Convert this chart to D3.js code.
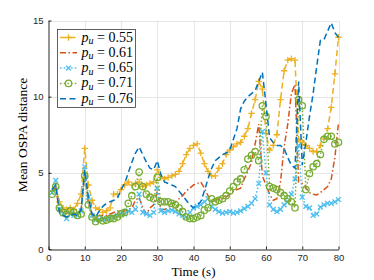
<!DOCTYPE html>
<html><head><meta charset="utf-8">
<script src="https://cdn.jsdelivr.net/npm/d3@7/dist/d3.min.js"></script>
<style>body{margin:0;background:#fff}svg{display:block}</style>
</head><body><svg id="c" width="374" height="280"></svg>
<script>
const times = [1,2,3,4,5,6,7,8,9,10,11,12,13,14,15,16,17,18,19,20,21,22,23,24,25,26,27,28,29,30,31,32,33,34,35,36,37,38,39,40,41,42,43,44,45,46,47,48,49,50,51,52,53,54,55,56,57,58,59,60,61,62,63,64,65,66,67,68,69,70,71,72,73,74,75,76,77,78,79,80];
const xTicks = [0,10,20,30,40,50,60,70,80];
const yTicks = [0,5,10,15];
const seriesLabels = ["0.55","0.61","0.65","0.71","0.76"];
const pu055 = [3.8,4.0,3.1,2.7,2.6,2.7,2.6,3.0,3.6,6.6,4.2,3.2,2.7,2.6,2.4,2.5,2.7,3.6,3.6,3.9,4.2,4.4,4.2,4.3,4.4,4.1,4.2,4.3,4.4,5.2,4.7,4.6,4.7,4.8,4.9,5.1,5.6,6.2,6.6,6.8,6.9,6.3,5.6,5.1,4.8,4.8,5.3,5.6,6.2,6.5,6.7,6.9,7.0,7.4,7.9,8.9,9.8,11.0,10.5,7.6,6.5,6.8,7.5,9.8,11.7,12.4,12.5,12.4,7.2,7.0,6.8,6.6,6.4,6.4,6.8,7.3,7.9,9.3,11.5,13.9];
const pu061 = [3.8,4.0,2.6,2.4,2.3,2.4,2.3,2.3,2.6,5.0,3.0,2.3,2.1,2.2,2.2,2.2,2.3,2.4,2.5,2.5,2.5,2.6,2.7,3.2,3.4,2.7,2.3,2.7,2.9,3.8,2.6,2.6,2.7,2.9,3.1,3.3,3.5,3.8,4.0,4.2,4.3,4.4,4.0,3.5,3.1,3.2,3.3,3.3,3.4,3.6,3.8,3.9,4.0,4.6,5.1,5.7,6.9,8.2,4.8,4.2,3.6,3.2,3.3,4.4,6.7,8.2,10.2,10.8,4.4,4.3,4.0,3.7,3.6,3.55,3.7,3.9,4.1,4.6,6.0,8.3];
const pu065 = [3.7,4.5,2.6,2.3,2.0,2.3,2.2,2.2,2.5,5.4,3.4,2.2,1.9,1.95,2.0,2.0,2.1,2.1,2.2,2.3,2.3,2.5,2.4,2.6,3.6,2.4,2.3,2.2,2.4,4.0,2.5,2.4,2.5,2.55,2.45,2.3,2.2,2.1,2.4,2.7,2.8,2.9,3.1,3.3,2.8,2.6,2.45,2.35,2.4,2.45,2.35,2.4,2.5,2.65,2.8,3.0,3.3,4.3,7.7,5.0,2.9,2.6,2.45,2.6,2.9,3.1,3.6,4.6,6.8,3.4,2.8,2.7,2.2,2.3,2.75,2.9,3.0,3.0,3.1,3.25];
const pu071 = [3.6,4.1,2.7,2.4,2.3,2.5,2.4,2.2,2.3,4.8,2.9,2.1,1.8,2.0,1.85,1.9,2.0,2.0,2.1,2.3,2.4,3.0,3.5,4.1,5.05,4.1,3.6,3.4,3.3,4.7,3.1,3.1,3.1,3.0,2.9,2.7,2.45,2.1,2.0,2.0,2.1,2.2,2.55,2.7,3.3,3.1,3.2,3.3,3.5,3.8,4.1,4.4,4.6,5.2,5.9,6.15,6.4,5.8,9.4,8.7,4.1,4.0,3.9,3.7,3.5,3.3,3.1,2.7,9.8,9.4,3.9,4.95,5.4,5.6,6.2,7.2,7.4,7.4,6.9,7.0];
const pu076 = [3.9,4.2,2.4,2.2,2.1,2.2,2.3,2.2,2.6,5.2,3.4,2.3,2.1,2.5,2.8,3.0,3.1,3.2,3.3,3.9,4.3,5.0,5.7,6.3,6.7,6.2,5.7,5.3,5.2,5.8,4.9,4.4,4.3,4.2,4.1,3.8,3.5,3.2,2.9,2.7,2.9,3.1,3.8,4.6,5.3,5.8,6.0,6.2,6.3,6.5,7.2,7.9,9.2,9.7,10.0,10.2,10.4,11.0,11.6,9.5,7.3,7.0,6.8,6.8,6.6,6.0,5.5,5.3,11.0,5.5,7.0,8.7,10.2,12.0,13.7,13.75,14.3,14.85,14.2,13.9];

const seriesValues = [pu055, pu061, pu065, pu071, pu076];
const styles = [
  {color:"#EDB120", dash:"6,3.5", marker:"plus"},
  {color:"#D95319", dash:"6,2.5,1.5,2.5", marker:null},
  {color:"#4DBEEE", dash:"1.5,2.2", marker:"x"},
  {color:"#77AC30", dash:"1.5,2.2", marker:"circle"},
  {color:"#0072BD", dash:"6,3.5", marker:null}
];

const svg = d3.select("#c");
const x = d3.scaleLinear().domain([0,80]).range([48.5,338.5]);
const y = d3.scaleLinear().domain([0,15]).range([249,20.5]);

// grid
const grid = svg.append("g").attr("stroke","#e6e6e6").attr("stroke-width",1);
xTicks.forEach(t=>{ if(t>0) grid.append("line").attr("x1",Math.round(x(t))+0.5).attr("x2",Math.round(x(t))+0.5).attr("y1",y(0)).attr("y2",y(15)); });
yTicks.forEach(t=>{ if(t>0) grid.append("line").attr("x1",x(0)).attr("x2",x(80)).attr("y1",Math.round(y(t))+0.5).attr("y2",Math.round(y(t))+0.5); });

// axes
const axisColor = "#262626";
const xAxis = d3.axisBottom(x).tickValues(xTicks).tickSize(-3).tickSizeOuter(0).tickPadding(5);
const yAxis = d3.axisLeft(y).tickValues(yTicks).tickSize(-3).tickSizeOuter(0).tickPadding(5);
const gx = svg.append("g").attr("transform","translate(0,249.5)").call(xAxis);
const gy = svg.append("g").attr("transform","translate(48.5,0)").call(yAxis);
[gx,gy].forEach(g=>{
  g.select(".domain").attr("stroke",axisColor).attr("stroke-width",1);
  g.selectAll(".tick line").attr("stroke",axisColor);
  g.selectAll(".tick text").attr("fill",axisColor).style("font-family","'Liberation Sans', Arial, sans-serif").style("font-size","9.5px");
});

// lines
const line = d3.line().x((d,i)=>x(times[i])).y(d=>y(d));
const markerPath = {
  plus:"M-3.2,0H3.2M0,-3.2V3.2",
  x:"M-2.4,-2.4L2.4,2.4M-2.4,2.4L2.4,-2.4"
};
seriesValues.forEach((vals,si)=>{
  const st = styles[si];
  const g = svg.append("g");
  g.append("path").attr("d",line(vals)).attr("fill","none").attr("stroke",st.color)
    .attr("stroke-width",1.5).attr("stroke-dasharray",st.dash);
  if(st.marker==="circle"){
    g.selectAll("circle").data(vals).join("circle")
      .attr("cx",(d,i)=>x(times[i])).attr("cy",d=>y(d)).attr("r",3.2)
      .attr("fill","none").attr("stroke",st.color).attr("stroke-width",1.3);
  } else if(st.marker){
    g.selectAll("path.m").data(vals).join("path").attr("class","m")
      .attr("transform",(d,i)=>`translate(${x(times[i])},${y(d)})`)
      .attr("d",markerPath[st.marker]).attr("fill","none").attr("stroke",st.color).attr("stroke-width",1.3);
  }
});

// axis labels
svg.append("text").attr("x",193.5).attr("y",275.5).attr("text-anchor","middle")
  .style("font-family","'Liberation Serif', 'Times New Roman', serif").style("font-size","13px").attr("fill","#000").text("Time (s)");
svg.append("text").attr("transform","translate(27,135) rotate(-90)").attr("text-anchor","middle")
  .style("font-family","'Liberation Serif', 'Times New Roman', serif").style("font-size","13.5px").attr("fill","#000").text("Mean OSPA distance");

// legend
const lg = svg.append("g");
lg.append("rect").attr("x",57.5).attr("y",29.5).attr("width",78).attr("height",78)
  .attr("fill","#fff").attr("stroke","#3a3a3a").attr("stroke-width",0.8);
seriesLabels.forEach((lab,i)=>{
  const st = styles[i];
  const cy = 37.5 + i*15.3;
  lg.append("line").attr("x1",60).attr("x2",77).attr("y1",cy).attr("y2",cy)
    .attr("stroke",st.color).attr("stroke-width",1.5).attr("stroke-dasharray",st.dash);
  if(st.marker==="circle"){
    lg.append("circle").attr("cx",68.5).attr("cy",cy).attr("r",3.2).attr("fill","none").attr("stroke",st.color).attr("stroke-width",1.3);
  } else if(st.marker){
    lg.append("path").attr("transform",`translate(68.5,${cy})`).attr("d",markerPath[st.marker]).attr("fill","none").attr("stroke",st.color).attr("stroke-width",1.3);
  }
  const t = lg.append("text").attr("x",81.5).attr("y",cy+4)
    .style("font-family","'Liberation Serif', 'Times New Roman', serif").style("font-size","14px").attr("fill","#000");
  t.append("tspan").style("font-style","italic").text("p");
  t.append("tspan").style("font-style","italic").style("font-size","10px").attr("dy",2.5).text("u");
  t.append("tspan").attr("dy",-2.5).text(" = " + lab);
});
</script></body></html>
